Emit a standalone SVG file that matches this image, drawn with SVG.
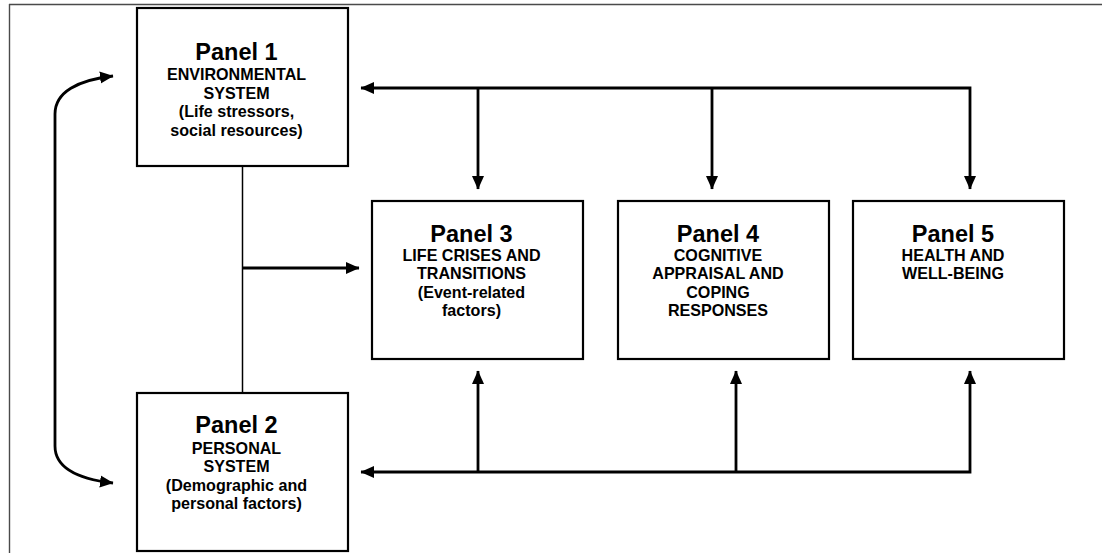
<svg xmlns="http://www.w3.org/2000/svg" width="1102" height="553" viewBox="0 0 1102 553">
  <style>
    .box { fill: #ffffff; stroke: #000000; stroke-width: 2.2; }
    .title { font-family: "Liberation Sans", Arial, sans-serif; font-weight: bold; font-size: 23.5px; fill: #000000; text-anchor: middle; }
    .body { font-family: "Liberation Sans", Arial, sans-serif; font-weight: bold; font-size: 16.1px; fill: #000000; text-anchor: middle; }
    .wire { fill: none; stroke: #000000; stroke-width: 2.8; stroke-linejoin: miter; }
    .thin { fill: none; stroke: #000000; stroke-width: 1.5; }
    .frame { fill: none; stroke: #4a4a4a; stroke-width: 1.4; }
  </style>
  <defs>
    <marker id="head" markerUnits="userSpaceOnUse" markerWidth="15" markerHeight="15" viewBox="0 0 15 15" refX="13" refY="7.5" orient="auto-start-reverse">
      <path d="M0,1.5 L13.5,7.5 L0,13.5 Z" fill="#000000"/>
    </marker>
  </defs>

  <rect x="0" y="0" width="1102" height="553" fill="#ffffff"/>

  <!-- page frame -->
  <g id="frame">
    <line class="frame" x1="9" y1="4.5" x2="1102" y2="4.5"/>
    <line class="frame" x1="9.5" y1="4" x2="9.5" y2="553"/>
  </g>

  <!-- connectors -->
  <g id="connectors">
    <!-- feedback between panel 1 and panel 2 -->
    <path class="wire" d="M113,76 C78,80 55,92 55,114 L55,446 C55,468 78,479 113,483" marker-start="url(#head)" marker-end="url(#head)"/>
    <!-- panel 1 and 2 joined, feeding panel 3 -->
    <line class="thin" x1="242.5" y1="166" x2="242.5" y2="393"/>
    <line class="wire" x1="242.5" y1="268" x2="359" y2="268" marker-end="url(#head)"/>
    <!-- top bus: panel 1 to panel 5, with drops to panels 3 and 4 -->
    <path class="wire" d="M361,88 L970,88 L970,189" marker-start="url(#head)" marker-end="url(#head)"/>
    <line class="wire" x1="478" y1="88" x2="478" y2="189" marker-end="url(#head)"/>
    <line class="wire" x1="712" y1="88" x2="712" y2="189" marker-end="url(#head)"/>
    <!-- bottom bus: panel 2 to panel 5, with risers to panels 3 and 4 -->
    <path class="wire" d="M361,472 L970,472 L970,371" marker-start="url(#head)" marker-end="url(#head)"/>
    <line class="wire" x1="478" y1="472" x2="478" y2="371" marker-end="url(#head)"/>
    <line class="wire" x1="736" y1="472" x2="736" y2="371" marker-end="url(#head)"/>
  </g>

  <g id="panel1">
    <rect class="box" x="137" y="8" width="211" height="158"/>
    <text class="title" x="236.5" y="59.5">Panel 1</text>
    <text class="body" x="236.5" y="80">ENVIRONMENTAL</text>
    <text class="body" x="236.5" y="98.5">SYSTEM</text>
    <text class="body" x="236.5" y="117">(Life stressors,</text>
    <text class="body" x="236.5" y="135.5">social resources)</text>
  </g>

  <g id="panel2">
    <rect class="box" x="137" y="393" width="211" height="158"/>
    <text class="title" x="236.5" y="432.7">Panel 2</text>
    <text class="body" x="236.5" y="454">PERSONAL</text>
    <text class="body" x="236.5" y="472">SYSTEM</text>
    <text class="body" x="236.5" y="490.5">(Demographic and</text>
    <text class="body" x="236.5" y="509">personal factors)</text>
  </g>

  <g id="panel3">
    <rect class="box" x="372" y="201" width="211" height="158"/>
    <text class="title" x="471.5" y="241.7">Panel 3</text>
    <text class="body" x="471.5" y="261">LIFE CRISES AND</text>
    <text class="body" x="471.5" y="279.3">TRANSITIONS</text>
    <text class="body" x="471.5" y="297.5">(Event-related</text>
    <text class="body" x="471.5" y="316">factors)</text>
  </g>

  <g id="panel4">
    <rect class="box" x="618" y="201" width="211" height="158"/>
    <text class="title" x="718" y="241.7">Panel 4</text>
    <text class="body" x="718" y="261">COGNITIVE</text>
    <text class="body" x="718" y="279.3">APPRAISAL AND</text>
    <text class="body" x="718" y="297.5">COPING</text>
    <text class="body" x="718" y="316">RESPONSES</text>
  </g>

  <g id="panel5">
    <rect class="box" x="853" y="201" width="211" height="158"/>
    <text class="title" x="953" y="241.7">Panel 5</text>
    <text class="body" x="953" y="261">HEALTH AND</text>
    <text class="body" x="953" y="279.3">WELL-BEING</text>
  </g>
</svg>
